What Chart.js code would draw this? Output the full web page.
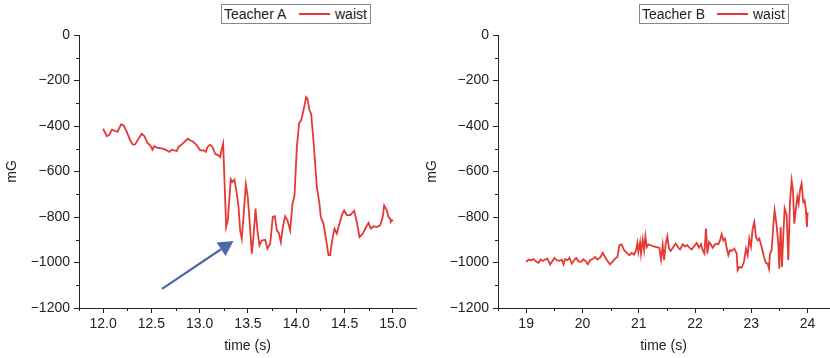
<!DOCTYPE html>
<html>
<head>
<meta charset="utf-8">
<script src="https://cdn.jsdelivr.net/npm/chart.js@4"></script>
<style>
  html, body { margin: 0; padding: 0; background: #fff; }
  .panel { position: absolute; top: 0; height: 358px; }
  .legend {
    position: absolute; top: 4px; width: 150px; height: 20px; box-sizing: border-box;
    border: 1px solid #888; background: #fff;
    font: 14px "Liberation Sans", Arial, sans-serif; color: #222;
  }
  .legend span { position: absolute; top: 1px; line-height: 17px; }
  .legend .swatch { top: 8px; width: 31px; height: 0; border-top: 2px solid #e53935; }
</style>
</head>
<body>
<div class="panel" style="left:0;width:420px"><canvas id="chartA" width="420" height="358"></canvas></div>
<div class="panel" style="left:420px;width:410px"><canvas id="chartB" width="410" height="358"></canvas></div>
<div class="legend" style="left:221px"><span style="left:2px">Teacher A</span><span class="swatch" style="left:77px"></span><span style="left:113px">waist</span></div>
<div class="legend" style="left:639px"><span style="left:2px">Teacher B</span><span class="swatch" style="left:77px"></span><span style="left:113px">waist</span></div>
<script>
// Teacher A, waist sensor (mG)
const timeA = [12.000, 12.038, 12.066, 12.090, 12.124, 12.148, 12.186, 12.211, 12.245, 12.280,
  12.307, 12.331, 12.366, 12.400, 12.428, 12.459, 12.487, 12.511, 12.528, 12.556,
  12.590, 12.625, 12.659, 12.684, 12.711, 12.735, 12.763, 12.780, 12.815, 12.849,
  12.877, 12.901, 12.936, 12.970, 13.005, 13.039, 13.063, 13.081, 13.108, 13.136,
  13.160, 13.194, 13.212, 13.229, 13.243, 13.274, 13.291, 13.322, 13.339, 13.360,
  13.384, 13.402, 13.419, 13.436, 13.453, 13.478, 13.498, 13.516, 13.540, 13.557,
  13.578, 13.598, 13.619, 13.643, 13.678, 13.702, 13.730, 13.757, 13.778, 13.799,
  13.819, 13.840, 13.861, 13.885, 13.909, 13.937, 13.961, 13.982, 14.006, 14.030,
  14.051, 14.075, 14.102, 14.116, 14.137, 14.154, 14.178, 14.213, 14.240, 14.254,
  14.282, 14.310, 14.334, 14.351, 14.372, 14.396, 14.420, 14.448, 14.472, 14.496,
  14.524, 14.558, 14.600, 14.627, 14.655, 14.689, 14.724, 14.748, 14.772, 14.800,
  14.834, 14.869, 14.897, 14.910, 14.938, 14.955, 14.972, 14.979, 15.000];
const waistA = [-412, -445, -438, -416, -422, -426, -393, -397, -426, -463,
  -482, -481, -456, -434, -445, -475, -485, -504, -489, -495,
  -497, -501, -507, -514, -504, -507, -510, -492, -481, -467,
  -456, -463, -470, -485, -507, -507, -514, -492, -482, -495,
  -522, -529, -536, -500, -478, -844, -815, -634, -646, -636,
  -697, -756, -859, -895, -800, -656, -712, -815, -961, -888,
  -763, -859, -925, -903, -900, -939, -917, -800, -797, -859,
  -870, -910, -844, -797, -815, -859, -741, -705, -492, -387,
  -375, -331, -273, -280, -331, -346, -463, -668, -741, -800,
  -829, -903, -968, -968, -903, -851, -873, -829, -792, -771,
  -792, -792, -773, -822, -888, -873, -844, -826, -851, -841,
  -844, -837, -797, -749, -771, -800, -807, -822, -812];

// Teacher B, waist sensor (mG)
const timeB = [19.000, 19.041, 19.083, 19.130, 19.172, 19.219, 19.260, 19.296, 19.337, 19.379,
  19.426, 19.467, 19.503, 19.544, 19.592, 19.633, 19.663, 19.692, 19.734, 19.769,
  19.811, 19.852, 19.888, 19.929, 19.976, 20.018, 20.059, 20.095, 20.136, 20.178,
  20.225, 20.266, 20.314, 20.361, 20.402, 20.444, 20.491, 20.533, 20.580, 20.621,
  20.657, 20.698, 20.740, 20.787, 20.834, 20.876, 20.917, 20.953, 20.976, 20.994,
  21.024, 21.041, 21.071, 21.095, 21.118, 21.142, 21.172, 21.213, 21.260, 21.320,
  21.367, 21.396, 21.426, 21.450, 21.479, 21.509, 21.538, 21.568, 21.615, 21.657,
  21.704, 21.734, 21.781, 21.822, 21.864, 21.899, 21.941, 21.982, 22.030, 22.071,
  22.107, 22.136, 22.166, 22.195, 22.219, 22.249, 22.278, 22.314, 22.355, 22.385,
  22.414, 22.444, 22.473, 22.503, 22.533, 22.562, 22.592, 22.621, 22.651, 22.698,
  22.740, 22.757, 22.787, 22.828, 22.870, 22.905, 22.935, 22.964, 22.994, 23.024,
  23.053, 23.083, 23.112, 23.142, 23.183, 23.225, 23.260, 23.290, 23.314, 23.331,
  23.361, 23.391, 23.414, 23.450, 23.479, 23.497, 23.521, 23.544, 23.568, 23.592,
  23.627, 23.657, 23.686, 23.716, 23.740, 23.763, 23.793, 23.817, 23.840, 23.864,
  23.893, 23.923, 23.947, 23.970, 23.988, 24.000];
const waistB = [-997, -987, -990, -985, -995, -1001, -987, -993, -987, -983,
  -1008, -993, -980, -990, -993, -987, -1008, -985, -990, -979,
  -1005, -990, -980, -995, -997, -986, -995, -1008, -990, -985,
  -976, -987, -979, -958, -976, -993, -1008, -997, -983, -976,
  -924, -920, -946, -958, -968, -958, -965, -946, -914, -954,
  -910, -961, -900, -946, -885, -932, -920, -924, -929, -932,
  -936, -987, -924, -990, -917, -885, -939, -949, -932, -917,
  -935, -943, -920, -929, -924, -935, -943, -929, -914, -935,
  -920, -946, -961, -851, -961, -910, -920, -935, -920, -917,
  -920, -903, -876, -903, -895, -935, -968, -946, -949, -939,
  -961, -1034, -1020, -1023, -997, -939, -968, -895, -929, -851,
  -822, -888, -903, -895, -932, -976, -1002, -1005, -1027, -961,
  -946, -837, -771, -837, -917, -1027, -844, -1020, -881, -763,
  -792, -990, -741, -639, -683, -829, -763, -712, -741, -683,
  -653, -734, -727, -771, -844, -780];

// axis ranges and ticks
const rangeA = [11.75, 15.24];
const rangeB = [18.5, 24.38];
const stepA = 0.25, labelStepA = 0.5;
const stepB = 0.5, labelStepB = 1;
const yRange = [-1200, 0];
const yStep = 100, yLabelStep = 200;

// arrow in Teacher A panel (data units)
const arrowFrom = { x: 12.61, y: -1116 };
const arrowTo = { x: 13.35, y: -905 };

const FONT = '"Liberation Sans", Arial, sans-serif';
const INK = '#222';
const LINE = '#e53935';

function isStep(v, step) {
  return Math.abs(v / step - Math.round(v / step)) < 1e-6;
}

// minor ticks are drawn shorter than major ones
const minorTicks = {
  id: 'minorTicks',
  afterDraw(chart) {
    const { ctx } = chart;
    const x = chart.scales.x, y = chart.scales.y;
    const o = chart.options.plugins.minorTicks;
    ctx.save();
    ctx.strokeStyle = INK;
    ctx.lineWidth = 1;
    ctx.beginPath();
    x.ticks.forEach(t => {
      if (isStep(t.value, o.xMajor)) return;
      const px = Math.round(x.getPixelForValue(t.value)) + 0.5;
      ctx.moveTo(px, x.top);
      ctx.lineTo(px, x.top + 3);
    });
    y.ticks.forEach(t => {
      if (isStep(t.value, yLabelStep)) return;
      const py = Math.round(y.getPixelForValue(t.value)) + 0.5;
      ctx.moveTo(y.right, py);
      ctx.lineTo(y.right - 3, py);
    });
    ctx.stroke();
    ctx.restore();
  }
};

const arrow = {
  id: 'arrow',
  afterDatasetsDraw(chart) {
    const o = chart.options.plugins.arrow;
    if (!o || !o.from) return;
    const { ctx } = chart;
    const x = chart.scales.x, y = chart.scales.y;
    const x0 = x.getPixelForValue(o.from.x), y0 = y.getPixelForValue(o.from.y);
    const x1 = x.getPixelForValue(o.to.x), y1 = y.getPixelForValue(o.to.y);
    const a = Math.atan2(y1 - y0, x1 - x0);
    const head = 15, half = 8;
    const bx = x1 - head * Math.cos(a), by = y1 - head * Math.sin(a);
    ctx.save();
    ctx.strokeStyle = '#4a69a8';
    ctx.fillStyle = '#4a69a8';
    ctx.lineWidth = 2.2;
    ctx.beginPath();
    ctx.moveTo(x0, y0);
    ctx.lineTo(bx, by);
    ctx.stroke();
    ctx.beginPath();
    ctx.moveTo(x1, y1);
    ctx.lineTo(bx + half * Math.sin(a), by - half * Math.cos(a));
    ctx.lineTo(bx - half * Math.sin(a), by + half * Math.cos(a));
    ctx.closePath();
    ctx.fill();
    ctx.restore();
  }
};

function makeChart(id, times, values, range, step, labelStep, digits, yWidth, padRight, arrowOpt) {
  const points = times.map((t, i) => ({ x: t, y: values[i] }));
  return new Chart(document.getElementById(id), {
    type: 'line',
    data: {
      datasets: [{
        label: 'waist',
        data: points,
        borderColor: LINE,
        borderWidth: 1.8,
        pointRadius: 0,
        tension: 0,
        fill: false
      }]
    },
    options: {
      responsive: false,
      animation: false,
      layout: { padding: { top: 35, right: padRight, bottom: 0, left: 0 } },
      plugins: {
        legend: { display: false },
        tooltip: { enabled: false },
        minorTicks: { xMajor: labelStep },
        arrow: arrowOpt || {}
      },
      scales: {
        x: {
          type: 'linear',
          min: range[0],
          max: range[1],
          afterFit: s => { s.height = 50; },
          grid: {
            display: true, drawOnChartArea: false, drawTicks: true, tickLength: 5,
            tickColor: c => isStep(c.tick.value, labelStep) ? INK : 'rgba(0,0,0,0)'
          },
          border: { display: true, color: INK, width: 1 },
          ticks: {
            stepSize: step,
            includeBounds: false,
            autoSkip: false,
            maxRotation: 0,
            padding: 3,
            color: INK,
            font: { family: FONT, size: 14 },
            callback: v => isStep(v, labelStep) ? v.toFixed(digits) : ''
          },
          title: {
            display: true, text: 'time (s)', color: INK,
            font: { family: FONT, size: 14 },
            padding: { top: 0, bottom: 3 }
          }
        },
        y: {
          min: yRange[0],
          max: yRange[1],
          afterFit: s => { s.width = yWidth; },
          grid: {
            display: true, drawOnChartArea: false, drawTicks: true, tickLength: 5,
            tickColor: c => isStep(c.tick.value, yLabelStep) ? INK : 'rgba(0,0,0,0)'
          },
          border: { display: true, color: INK, width: 1 },
          ticks: {
            stepSize: yStep,
            autoSkip: false,
            padding: 4,
            color: INK,
            font: { family: FONT, size: 14 },
            callback: v => isStep(v, yLabelStep) ? String(v).replace('-', '\u2212') : ''
          },
          title: {
            display: true, text: 'mG', color: INK,
            font: { family: FONT, size: 14 },
            padding: { top: 4, bottom: 4 }
          }
        }
      }
    },
    plugins: [minorTicks, arrow]
  });
}

makeChart('chartA', timeA, waistA, rangeA, stepA, labelStepA, 1, 79, 4, { from: arrowFrom, to: arrowTo });
makeChart('chartB', timeB, waistB, rangeB, stepB, labelStepB, 0, 78, 1, null);
</script>
</body>
</html>
